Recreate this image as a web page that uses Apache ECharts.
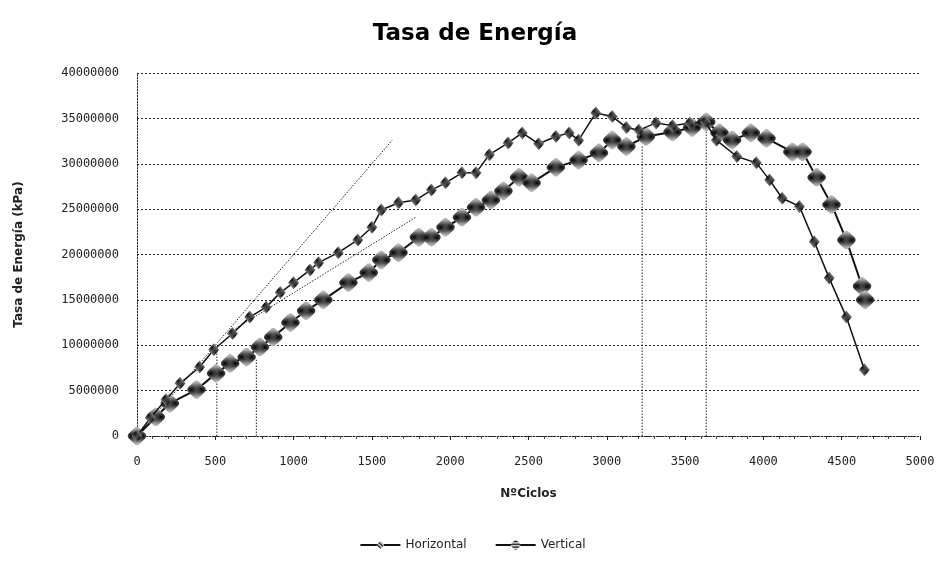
<!DOCTYPE html>
<html>
<head>
<meta charset="utf-8">
<script src="https://cdn.jsdelivr.net/npm/echarts@6/dist/echarts.min.js"></script>
<style>
  html, body { margin: 0; padding: 0; background: #fff; }
  #chart { width: 945px; height: 568px; }
</style>
</head>
<body>
<div id="chart"></div>
<script>
// Tasa de Energía vs Nº Ciclos
const horizontalX = [0, 85, 185, 275, 400, 490, 610, 720, 825, 915, 1000, 1105, 1160, 1285, 1410, 1500, 1560, 1670, 1780, 1880, 1970, 2075, 2165, 2250, 2370, 2460, 2565, 2675, 2760, 2820, 2930, 3035, 3125, 3205, 3315, 3420, 3530, 3630, 3700, 3830, 3955, 4040, 4120, 4230, 4325, 4420, 4530, 4645];
const horizontalY = [0, 2.0e6, 4.0e6, 5.8e6, 7.6e6, 9.5e6, 11.3e6, 13.1e6, 14.2e6, 15.8e6, 16.9e6, 18.3e6, 19.1e6, 20.2e6, 21.6e6, 23.0e6, 24.9e6, 25.7e6, 26.0e6, 27.1e6, 27.9e6, 29.0e6, 29.0e6, 31.0e6, 32.3e6, 33.4e6, 32.2e6, 33.0e6, 33.4e6, 32.6e6, 35.6e6, 35.2e6, 34.0e6, 33.7e6, 34.5e6, 34.2e6, 34.5e6, 34.6e6, 32.6e6, 30.8e6, 30.1e6, 28.2e6, 26.2e6, 25.3e6, 21.4e6, 17.4e6, 13.1e6, 7.3e6];

const verticalX = [0, 120, 210, 380, 505, 595, 700, 785, 870, 980, 1080, 1190, 1350, 1480, 1560, 1670, 1800, 1880, 1970, 2075, 2165, 2260, 2340, 2440, 2520, 2675, 2820, 2950, 3035, 3125, 3250, 3420, 3545, 3635, 3720, 3800, 3920, 4020, 4185, 4250, 4340, 4435, 4530, 4630, 4650];
const verticalY = [0, 2.1e6, 3.6e6, 5.1e6, 6.9e6, 8.0e6, 8.7e6, 9.8e6, 10.9e6, 12.5e6, 13.8e6, 15.0e6, 16.9e6, 18.0e6, 19.4e6, 20.2e6, 21.9e6, 21.9e6, 23.0e6, 24.1e6, 25.2e6, 26.0e6, 27.0e6, 28.5e6, 27.9e6, 29.6e6, 30.4e6, 31.2e6, 32.6e6, 31.9e6, 33.0e6, 33.5e6, 34.0e6, 34.6e6, 33.4e6, 32.6e6, 33.4e6, 32.8e6, 31.3e6, 31.3e6, 28.5e6, 25.5e6, 21.6e6, 16.5e6, 15.0e6];

// líneas auxiliares punteadas
const tangentA = [[0, 0], [1630, 32.6e6]];
const tangentB = [[580, 11.3e6], [1780, 24.1e6]];
const dropLines = [
    [[510, 0], [510, 9.8e6]],
    [[762, 0], [762, 8.4e6]],
    [[3226, 0], [3226, 32.0e6]],
    [[3635, 0], [3635, 34.0e6]]
];

const yTicks = { min: 0, max: 40000000, interval: 5000000 };
const xTicks = { min: 0, max: 5000, interval: 500 };

function zip(xs, ys) {
    return xs.map((x, i) => [x, ys[i]]);
}

// trama rayada para los marcadores
function makeHatch() {
    const c = document.createElement('canvas');
    c.width = 4; c.height = 4;
    const ctx = c.getContext('2d');
    ctx.fillStyle = '#fff';
    ctx.fillRect(0, 0, 4, 4);
    ctx.strokeStyle = '#000';
    ctx.lineWidth = 1.4;
    ctx.beginPath();
    ctx.moveTo(-1, -1); ctx.lineTo(5, 5);
    ctx.moveTo(-1, 3); ctx.lineTo(1, 5);
    ctx.moveTo(3, -1); ctx.lineTo(5, 1);
    ctx.stroke();
    return { image: c, repeat: 'repeat' };
}

const hatch = makeHatch();
const chart = echarts.init(document.getElementById('chart'));

const guideStyle = { color: '#222', width: 1, type: [1.5, 1.5] };
const guideSeries = [tangentA, tangentB].concat(dropLines).map((pts, i) => ({
    name: 'guia' + i,
    type: 'line',
    data: pts,
    symbol: 'none',
    silent: true,
    z: 1,
    lineStyle: guideStyle
}));

const option = {
    animation: false,
    textStyle: { fontFamily: 'DejaVu Sans' },
    title: {
        text: 'Tasa de Energía',
        left: 470,
        textAlign: 'center',
        top: 18,
        textStyle: { fontSize: 23, fontWeight: 'bold', color: '#000', fontFamily: 'DejaVu Sans' }
    },
    legend: {
        data: ['Horizontal', 'Vertical'],
        bottom: 12,
        left: 'center',
        itemGap: 28,
        itemWidth: 40,
        itemHeight: 10,
        textStyle: { fontSize: 12, color: '#222', fontFamily: 'DejaVu Sans' }
    },
    grid: { left: 137, right: 25, top: 73, bottom: 132, containLabel: false },
    xAxis: {
        type: 'value',
        min: xTicks.min, max: xTicks.max, interval: xTicks.interval,
        name: 'NºCiclos',
        nameLocation: 'middle',
        nameGap: 52,
        nameTextStyle: { fontSize: 12, fontWeight: 'bold', color: '#222' },
        axisLine: { show: true, lineStyle: { color: '#222', type: [1.5, 1.5] } },
        axisTick: { show: true, length: 4, lineStyle: { color: '#222' } },
        minorTick: { show: true, splitNumber: 5, length: 3, lineStyle: { color: '#444' } },
        axisLabel: { margin: 20, fontSize: 12, color: '#222', fontFamily: 'DejaVu Sans Mono', formatter: v => String(v) },
        splitLine: { show: false }
    },
    yAxis: {
        type: 'value',
        min: yTicks.min, max: yTicks.max, interval: yTicks.interval,
        name: 'Tasa de Energía (kPa)',
        nameLocation: 'middle',
        nameGap: 112,
        nameTextStyle: { fontSize: 12, fontWeight: 'bold', color: '#222' },
        axisLine: { show: true, lineStyle: { color: '#222', type: [1.5, 1.5] } },
        axisTick: { show: false },
        axisLabel: { margin: 18, fontSize: 12, color: '#222', fontFamily: 'DejaVu Sans Mono', formatter: v => String(v) },
        splitLine: { show: true, lineStyle: { color: '#222', width: 1, type: [2, 2] } }
    },
    series: [
        {
            name: 'Horizontal',
            type: 'line',
            data: zip(horizontalX, horizontalY),
            symbol: 'diamond',
            symbolSize: [11, 13],
            z: 3,
            lineStyle: { color: '#111', width: 1.5 },
            itemStyle: { color: hatch, borderWidth: 0 }
        },
        {
            name: 'Vertical',
            type: 'line',
            data: zip(verticalX, verticalY),
            symbol: 'roundRect',
            symbolSize: 15,
            symbolRotate: 45,
            z: 2,
            lineStyle: { color: '#111', width: 2 },
            itemStyle: { color: hatch, borderWidth: 0 }
        }
    ].concat(guideSeries)
};

chart.setOption(option);
</script>
</body>
</html>
